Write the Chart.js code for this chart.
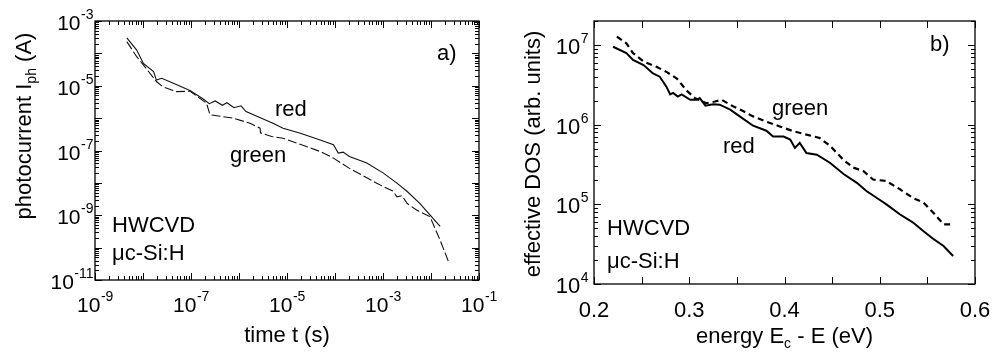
<!DOCTYPE html>
<html>
<head>
<meta charset="UTF-8">
<title>Photocurrent transients and effective DOS</title>
<script src="https://cdn.jsdelivr.net/npm/chart.js@4.4.0/dist/chart.umd.min.js"></script>
<style>
    body { margin: 0; background: #fff; }
    #wrap { position: relative; width: 994px; height: 354px; }
    #wrap canvas { position: absolute; top: 0; }
</style>
</head>
<body>
<div id="wrap">
    <canvas id="chartA" width="497" height="354" style="left:0"></canvas>
    <canvas id="chartB" width="497" height="354" style="left:497px"></canvas>
</div>
<script>
// a) photocurrent transients
var timeRed = [4.6e-9, 7.4e-9, 1.02e-8, 1.66e-8, 1.9e-8, 2.45e-8, 4.3e-8, 9.5e-8, 1.8e-7, 2.4e-7, 3.2e-7, 4.5e-7, 5.6e-7, 7.9e-7, 1.1e-6, 1.4e-6, 5.1e-6, 8.3e-6, 1.9e-5, 4.9e-5, 9.3e-5, 1.17e-4, 1.48e-4, 2.0e-4, 4.6e-4, 1.02e-3, 1.95e-3, 3.2e-3, 5.9e-3, 9.5e-3, 1.55e-2]
var currentRed = [3.0e-4, 1.26e-4, 4.9e-5, 2.75e-5, 1.5e-5, 1.7e-5, 1.2e-5, 7.1e-6, 3.9e-6, 2.8e-6, 3.4e-6, 2.5e-6, 3.0e-6, 2.1e-6, 2.4e-6, 1.6e-6, 6.9e-7, 4.9e-7, 3.4e-7, 2.1e-7, 1.5e-7, 8.3e-8, 8.9e-8, 6.5e-8, 4.1e-8, 2.0e-8, 9.8e-9, 5.4e-9, 2.3e-9, 1.02e-9, 4.5e-10]
var timeGreen = [4.6e-9, 7.4e-9, 1.02e-8, 1.9e-8, 2.6e-8, 5.0e-8, 9.5e-8, 2.1e-7, 2.5e-7, 7.6e-7, 1.7e-6, 2.75e-6, 2.8e-6, 4.8e-6, 8.3e-6, 4.9e-5, 9.3e-5, 2.0e-4, 7.4e-4, 1.2e-3, 1.6e-3, 1.95e-3, 2.5e-3, 3.2e-3, 5.0e-3, 9.5e-3, 1.55e-2, 2.4e-2]
var currentGreen = [2.3e-4, 7.9e-5, 4.4e-5, 1.35e-5, 9.3e-6, 6.6e-6, 6.8e-6, 2.9e-6, 1.26e-6, 1.0e-6, 6.9e-7, 4.9e-7, 3.5e-7, 2.7e-7, 2.4e-7, 9.3e-8, 5.8e-8, 2.8e-8, 9.8e-9, 6.8e-9, 5.6e-9, 3.7e-9, 4.0e-9, 2.3e-9, 1.45e-9, 9.1e-10, 1.7e-10, 3.2e-11]

// b) effective density of states
var energyRed = [0.220, 0.234, 0.241, 0.252, 0.262, 0.269, 0.276, 0.280, 0.283, 0.288, 0.292, 0.301, 0.308, 0.311, 0.317, 0.325, 0.332, 0.343, 0.353, 0.367, 0.381, 0.388, 0.399, 0.406, 0.411, 0.416, 0.423, 0.434, 0.448, 0.462, 0.476, 0.486, 0.497, 0.507, 0.521, 0.535, 0.546, 0.556, 0.567, 0.577]
var dosRed = [9.5e6, 7.9e6, 6.5e6, 5.6e6, 4.4e6, 4.0e6, 3.0e6, 2.4e6, 2.5e6, 2.25e6, 2.4e6, 2.05e6, 2.05e6, 2.15e6, 1.73e6, 1.8e6, 1.78e6, 1.54e6, 1.27e6, 9.7e5, 8.4e5, 7.1e5, 7.1e5, 6.5e5, 5.1e5, 5.9e5, 4.4e5, 4.2e5, 3.3e5, 2.4e5, 1.86e5, 1.47e5, 1.2e5, 1.0e5, 7.5e4, 5.9e4, 4.6e4, 3.7e4, 3.0e4, 2.25e4]
var energyGreen = [0.224, 0.234, 0.241, 0.252, 0.266, 0.276, 0.287, 0.297, 0.306, 0.318, 0.327, 0.334, 0.346, 0.357, 0.367, 0.381, 0.395, 0.409, 0.423, 0.437, 0.448, 0.462, 0.472, 0.483, 0.493, 0.507, 0.521, 0.535, 0.546, 0.556, 0.567, 0.577]
var dosGreen = [1.27e7, 1.05e7, 7.9e6, 6.2e6, 5.3e6, 4.6e6, 3.8e6, 2.7e6, 2.15e6, 1.86e6, 1.95e6, 2.05e6, 1.7e6, 1.47e6, 1.27e6, 1.09e6, 9.5e5, 8.3e5, 7.5e5, 6.8e5, 5.4e5, 3.6e5, 2.9e5, 2.6e5, 2.05e5, 1.96e5, 1.55e5, 1.2e5, 1.05e5, 7.9e4, 5.6e4, 5.6e4]

// tick labels
var timeTicks = [1e-9, 1e-7, 1e-5, 1e-3, 1e-1]
var currentTicks = [1e-11, 1e-9, 1e-7, 1e-5, 1e-3]
var energyTicks = [0.2, 0.3, 0.4, 0.5, 0.6]
var energyMinor = [0.25, 0.35, 0.45, 0.55]
var dosTicks = [1e4, 1e5, 1e6, 1e7]

var FONT = '"Liberation Sans", Arial, Helvetica, sans-serif'

function pts(xs, ys) {
    return xs.map(function(x, i) { return {x: x, y: ys[i]} })
}

// decade + 2..9 marks between min and max
function logMarks(min, max) {
    var out = []
    var e0 = Math.round(Math.log10(min)), e1 = Math.round(Math.log10(max))
    for (var e = e0; e < e1; e++) {
        for (var m = 1; m < 10; m++) out.push({v: m * Math.pow(10, e), major: m == 1})
    }
    out.push({v: max, major: true})
    return out
}

function powLabel(ctx, v, x, y, align, big, small, raise) {
    var exp = String(Math.round(Math.log10(v)))
    ctx.font = big + 'px ' + FONT
    var w1 = ctx.measureText('10').width
    ctx.font = small + 'px ' + FONT
    var w2 = ctx.measureText(exp).width
    var x0 = align == 'right' ? x - w1 - w2 : (align == 'center' ? x - (w1 + w2) / 2 : x)
    ctx.textAlign = 'left'
    ctx.font = big + 'px ' + FONT
    ctx.fillText('10', x0, y)
    ctx.font = small + 'px ' + FONT
    ctx.fillText(exp, x0 + w1 + 0.5, y - raise)
}

// text pieces [text, size, dy] drawn one after another
function richText(ctx, parts, x, y, align) {
    var w = 0
    parts.forEach(function(p) { ctx.font = p[1] + 'px ' + FONT; w += ctx.measureText(p[0]).width })
    var cx = align == 'center' ? x - w / 2 : x
    ctx.textAlign = 'left'
    parts.forEach(function(p) {
        ctx.font = p[1] + 'px ' + FONT
        ctx.fillText(p[0], cx, y + (p[2] || 0))
        cx += ctx.measureText(p[0]).width
    })
}

var framePlugin = {
    id: 'frame',
    afterDraw: function(chart, args, o) {
        var ctx = chart.ctx, a = chart.chartArea
        var xs = chart.scales.x, ys = chart.scales.y
        ctx.save()
        ctx.strokeStyle = '#000'
        ctx.fillStyle = '#000'
        ctx.lineWidth = 1.3
        ctx.strokeRect(a.left, a.top, a.right - a.left, a.bottom - a.top)
        ctx.lineWidth = 1
        ctx.beginPath()
        o.xMarks.forEach(function(t) {
            var px = Math.round(xs.getPixelForValue(t.v)) + 0.5
            var len = t.major ? 7 : 4
            ctx.moveTo(px, a.bottom); ctx.lineTo(px, a.bottom - len)
            ctx.moveTo(px, a.top); ctx.lineTo(px, a.top + len)
        })
        o.yMarks.forEach(function(t) {
            var py = Math.round(ys.getPixelForValue(t.v)) + 0.5
            var len = t.major ? 7 : 4
            ctx.moveTo(a.left, py); ctx.lineTo(a.left + len, py)
            ctx.moveTo(a.right, py); ctx.lineTo(a.right - len, py)
        })
        ctx.stroke()

        ctx.textBaseline = 'alphabetic'
        // x tick labels
        o.xLabels.forEach(function(v) {
            var px = xs.getPixelForValue(v)
            if (o.xLog) powLabel(ctx, v, px, a.bottom + o.xLabelDy, 'center', o.tickSize, o.supSize, o.raise)
            else {
                ctx.font = o.tickSize + 'px ' + FONT
                ctx.textAlign = 'center'
                ctx.fillText(v.toFixed(1), px, a.bottom + o.xLabelDy)
            }
        })
        // y tick labels
        o.yLabels.forEach(function(v) {
            var py = ys.getPixelForValue(v)
            powLabel(ctx, v, a.left - o.yLabelGap, py + o.yLabelDy, 'right', o.tickSize, o.supSize, o.raise)
        })
        // axis titles
        richText(ctx, o.xTitle, (a.left + a.right) / 2, o.xTitleY, 'center')
        ctx.save()
        ctx.translate(o.yTitleX, o.yTitleY)
        ctx.rotate(-Math.PI / 2)
        richText(ctx, o.yTitle, 0, 0, 'center')
        ctx.restore()
        // annotations
        o.notes.forEach(function(n) {
            ctx.font = o.noteSize + 'px ' + FONT
            ctx.textAlign = 'left'
            ctx.fillText(n[0], n[1], n[2])
        })
        ctx.restore()
    }
}

function baseOptions(padding, xScale, yScale, frame) {
    return {
        responsive: false,
        animation: false,
        layout: {padding: padding},
        plugins: {legend: {display: false}, tooltip: {enabled: false}, frame: frame},
        scales: {x: xScale, y: yScale}
    }
}

new Chart(document.getElementById('chartA'), {
    type: 'scatter',
    data: {
        datasets: [
            {label: 'red', data: pts(timeRed, currentRed), showLine: true, borderColor: '#111', borderWidth: 1.1, pointRadius: 0, tension: 0},
            {label: 'green', data: pts(timeGreen, currentGreen), showLine: true, borderColor: '#111', borderWidth: 1.1, borderDash: [9, 3], pointRadius: 0, tension: 0}
        ]
    },
    options: baseOptions(
        {left: 95, right: 18, top: 21, bottom: 74},
        {type: 'logarithmic', min: 1e-9, max: 1e-1, display: false},
        {type: 'logarithmic', min: 1e-11, max: 1e-3, display: false},
        {
            xMarks: logMarks(1e-9, 1e-1), yMarks: logMarks(1e-11, 1e-3),
            xLog: true, xLabels: timeTicks, yLabels: currentTicks,
            tickSize: 21, supSize: 14, raise: 11, xLabelDy: 32, yLabelGap: 2, yLabelDy: 9,
            xTitle: [['time t (s)', 22]], xTitleY: 342,
            yTitle: [['photocurrent I', 22], ['ph', 14, 5], [' (A)', 22]], yTitleX: 31, yTitleY: 126,
            noteSize: 22,
            notes: [['a)', 437, 60], ['red', 275, 116], ['green', 230, 162], ['HWCVD', 112, 232], ['\u03bcc-Si:H', 112, 260]]
        }
    ),
    plugins: [framePlugin]
})

new Chart(document.getElementById('chartB'), {
    type: 'scatter',
    data: {
        datasets: [
            {label: 'red', data: pts(energyRed, dosRed), showLine: true, borderColor: '#000', borderWidth: 2, pointRadius: 0, tension: 0},
            {label: 'green', data: pts(energyGreen, dosGreen), showLine: true, borderColor: '#000', borderWidth: 2.2, borderDash: [6, 4], pointRadius: 0, tension: 0}
        ]
    },
    options: baseOptions(
        {left: 97, right: 19, top: 21, bottom: 70},
        {type: 'linear', min: 0.2, max: 0.6, display: false},
        {type: 'logarithmic', min: 1e4, max: 2e7, display: false},
        {
            xMarks: energyTicks.map(function(v) { return {v: v, major: true} }).concat(energyMinor.map(function(v) { return {v: v, major: true} })),
            yMarks: logMarks(1e4, 1e7).concat([{v: 2e7, major: false}]),
            xLog: false, xLabels: energyTicks, yLabels: dosTicks,
            tickSize: 22, supSize: 14, raise: 11, xLabelDy: 33, yLabelGap: 6, yLabelDy: 9,
            xTitle: [['energy E', 22], ['c', 14, 5], [' - E (eV)', 22]], xTitleY: 343,
            yTitle: [['effective DOS (arb. units)', 22]], yTitleX: 43, yTitleY: 154,
            noteSize: 22,
            notes: [['b)', 433, 51], ['green', 275, 115], ['red', 226, 153], ['HWCVD', 110, 235], ['\u03bcc-Si:H', 110, 268]]
        }
    ),
    plugins: [framePlugin]
})
</script>
</body>
</html>
